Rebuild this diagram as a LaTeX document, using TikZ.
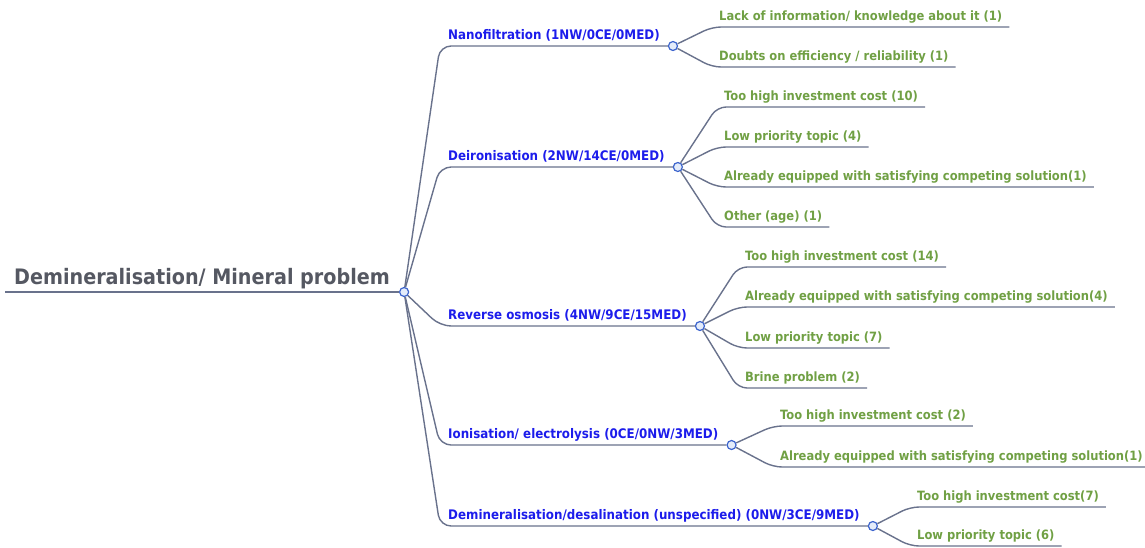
\documentclass[tikz,border=0pt]{standalone}
\usepackage{fontspec}
\setmainfont{DejaVu Sans Condensed}
\usepackage{xcolor}
\usepackage{tikz}

\definecolor{linegray}{RGB}{105,114,140}
\definecolor{rootgray}{RGB}{85,88,98}
\definecolor{topicblue}{RGB}{28,28,235}
\definecolor{causegreen}{RGB}{112,160,68}
\definecolor{knobblue}{RGB}{60,100,205}
\definecolor{knobfill}{RGB}{228,236,250}

\begin{document}
\begin{tikzpicture}[x=1pt,y=-1pt]
        % Define styles
        \tikzset{
            root/.style={anchor=south west, inner xsep=9, inner ysep=7, text depth=0pt, text=rootgray, font=\fontsize{21.3}{24}\selectfont\bfseries},
            topic/.style={anchor=south west, inner xsep=8, inner ysep=6, text depth=0pt, text=topicblue, font=\fontsize{13.2}{15}\selectfont\bfseries},
            cause/.style={anchor=south west, inner xsep=7, inner ysep=6, text depth=0pt, text=causegreen, font=\fontsize{12.8}{15}\selectfont\bfseries},
            knob/.style={circle, draw=knobblue, fill=knobfill, line width=1.2pt, inner sep=0pt, minimum size=9, anchor=west},
            branch/.style={draw=linegray, line width=1.4pt, rounded corners=9}
        }
        \useasboundingbox (0,0) rectangle (1145,547);

        % Nodes
        \node[root] (root_node) at (5,292) {Demineralisation/ Mineral problem};
        \node[knob] (root_knob) at (root_node.south east) {};

        \node[topic] (topic_node_1) at (440,46) {Nanofiltration (1NW/0CE/0MED)};
        \node[topic] (topic_node_2) at (440,167) {Deironisation (2NW/14CE/0MED)};
        \node[topic] (topic_node_3) at (440,326) {Reverse osmosis (4NW/9CE/15MED)};
        \node[topic] (topic_node_4) at (440,445) {Ionisation/ electrolysis (0CE/0NW/3MED)};
        \node[topic] (topic_node_5) at (440,526) {Demineralisation/desalination (unspecified) (0NW/3CE/9MED)};
        \node[knob] (knob_node_1) at (topic_node_1.south east) {};
        \node[knob] (knob_node_2) at (topic_node_2.south east) {};
        \node[knob] (knob_node_3) at (topic_node_3.south east) {};
        \node[knob] (knob_node_4) at (topic_node_4.south east) {};
        \node[knob] (knob_node_5) at (topic_node_5.south east) {};

        % Nanofiltration
        \node[cause] (cause_node_1_1) at (712,27) {Lack of information/ knowledge about it (1)};
        \node[cause] (cause_node_1_2) at (712,67) {Doubts on efficiency / reliability (1)};
        % Deironisation
        \node[cause] (cause_node_2_1) at (717,107) {Too high investment cost (10)};
        \node[cause] (cause_node_2_2) at (717,147) {Low priority topic (4)};
        \node[cause] (cause_node_2_3) at (717,187) {Already equipped with satisfying competing solution(1)};
        \node[cause] (cause_node_2_4) at (717,227) {Other (age) (1)};
        % Reverse osmosis
        \node[cause] (cause_node_3_1) at (738,267) {Too high investment cost (14)};
        \node[cause] (cause_node_3_2) at (738,307) {Already equipped with satisfying competing solution(4)};
        \node[cause] (cause_node_3_3) at (738,348) {Low priority topic (7)};
        \node[cause] (cause_node_3_4) at (738,388) {Brine problem (2)};
        % Ionisation
        \node[cause] (cause_node_4_1) at (773,426) {Too high investment cost (2)};
        \node[cause] (cause_node_4_2) at (773,467) {Already equipped with satisfying competing solution(1)};
        % Demineralisation/desalination
        \node[cause] (cause_node_5_1) at (910,507) {Too high investment cost(7)};
        \node[cause] (cause_node_5_2) at (910,546) {Low priority topic (6)};

        % Lines
        \draw[branch, line width=2pt] (root_node.south west) -- (root_node.south east);
        \draw[branch, rounded corners=11] (root_knob) -- (topic_node_1.south west) -- (topic_node_1.south east);
        \draw[branch, rounded corners=11] (root_knob) -- (topic_node_2.south west) -- (topic_node_2.south east);
        \draw[branch, rounded corners=11] (root_knob) -- (topic_node_3.south west) -- (topic_node_3.south east);
        \draw[branch, rounded corners=11] (root_knob) -- (topic_node_4.south west) -- (topic_node_4.south east);
        \draw[branch, rounded corners=11] (root_knob) -- (topic_node_5.south west) -- (topic_node_5.south east);

        \draw[branch] (knob_node_1) -- (cause_node_1_1.south west) -- (cause_node_1_1.south east);
        \draw[branch] (knob_node_1) -- (cause_node_1_2.south west) -- (cause_node_1_2.south east);
        \draw[branch] (knob_node_2) -- (cause_node_2_1.south west) -- (cause_node_2_1.south east);
        \draw[branch] (knob_node_2) -- (cause_node_2_2.south west) -- (cause_node_2_2.south east);
        \draw[branch] (knob_node_2) -- (cause_node_2_3.south west) -- (cause_node_2_3.south east);
        \draw[branch] (knob_node_2) -- (cause_node_2_4.south west) -- (cause_node_2_4.south east);
        \draw[branch] (knob_node_3) -- (cause_node_3_1.south west) -- (cause_node_3_1.south east);
        \draw[branch] (knob_node_3) -- (cause_node_3_2.south west) -- (cause_node_3_2.south east);
        \draw[branch] (knob_node_3) -- (cause_node_3_3.south west) -- (cause_node_3_3.south east);
        \draw[branch] (knob_node_3) -- (cause_node_3_4.south west) -- (cause_node_3_4.south east);
        \draw[branch] (knob_node_4) -- (cause_node_4_1.south west) -- (cause_node_4_1.south east);
        \draw[branch] (knob_node_4) -- (cause_node_4_2.south west) -- (cause_node_4_2.south east);
        \draw[branch] (knob_node_5) -- (cause_node_5_1.south west) -- (cause_node_5_1.south east);
        \draw[branch] (knob_node_5) -- (cause_node_5_2.south west) -- (cause_node_5_2.south east);
    \end{tikzpicture}
\end{document}
